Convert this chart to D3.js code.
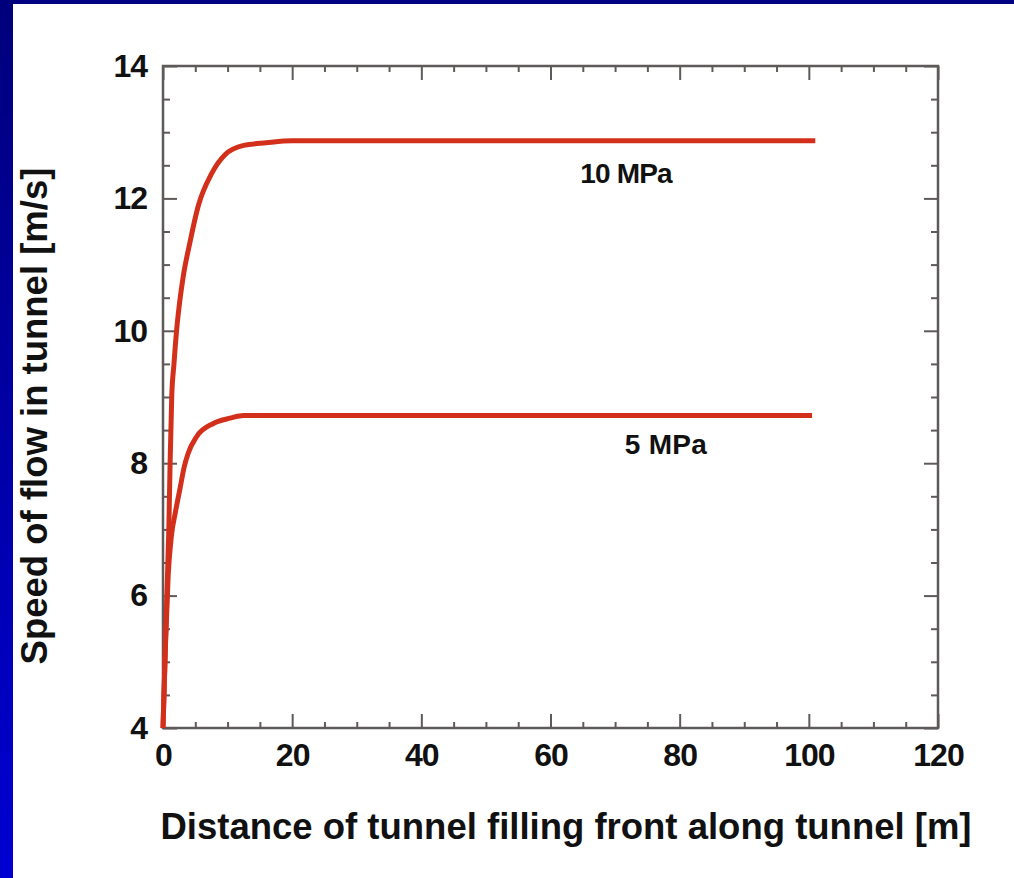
<!DOCTYPE html>
<html>
<head>
<meta charset="utf-8">
<script src="https://cdn.jsdelivr.net/npm/d3@7"></script>
<style>
  html, body { margin: 0; padding: 0; background: #ffffff; }
  svg { display: block; }
  text { font-family: "Liberation Sans", Arial, Helvetica, sans-serif; fill: #111; }
</style>
</head>
<body>
<svg id="chart" width="1014" height="878"></svg>
<script>
// Flow speed in the tunnel vs. distance of the filling front, two driving pressures
const seriesNames = ["10 MPa", "5 MPa"];
const distance10 = [0, 0.3, 0.6, 0.9, 1.1, 1.35, 1.7, 2.1, 2.6, 3.1, 4.2, 5.5, 7.5, 9.6, 12.5, 16, 20, 101];
const speed10    = [4, 5.0, 6.0, 7.0, 8.0, 9.0, 9.5, 10.0, 10.45, 10.8, 11.35, 11.9, 12.37, 12.66, 12.8, 12.84, 12.87, 12.87];
const distance5  = [0, 0.4, 0.8, 1.3, 1.9, 2.6, 3.3, 3.9, 5.2, 7.8, 10.4, 12.5, 100.5];
const speed5     = [4, 5.3, 6.3, 6.9, 7.25, 7.6, 7.95, 8.15, 8.4, 8.6, 8.68, 8.72, 8.72];
const xMajorTicks = [0, 20, 40, 60, 80, 100, 120];
const yMajorTicks = [4, 6, 8, 10, 12, 14];
const xLabel = "Distance of tunnel filling front along tunnel [m]";
const yLabel = "Speed of flow in tunnel [m/s]";

const svg = d3.select("#chart");
const W = 1014, H = 878;

// slide-style blue frame along the top and left edges
const defs = svg.append("defs");
const grad = defs.append("linearGradient").attr("id", "edgeBlue")
  .attr("x1", 0).attr("y1", 0).attr("x2", 0).attr("y2", 1);
grad.append("stop").attr("offset", "0%").attr("stop-color", "#00007c");
grad.append("stop").attr("offset", "100%").attr("stop-color", "#0000d2");
svg.append("rect").attr("x", 0).attr("y", 0).attr("width", W).attr("height", H).attr("fill", "#ffffff");
svg.append("rect").attr("x", 0).attr("y", 0).attr("width", W).attr("height", 4).attr("fill", "#000080");
svg.append("rect").attr("x", 0).attr("y", 0).attr("width", 13).attr("height", H).attr("fill", "url(#edgeBlue)");

const plotL = 163, plotR = 938, plotT = 66, plotB = 728;
const x = d3.scaleLinear().domain([0, 120]).range([plotL, plotR]);
const y = d3.scaleLinear().domain([4, 14]).range([plotB, plotT]);

const xMinor = d3.range(0, 120.01, 5).filter(v => !xMajorTicks.includes(v));
const yMinor = d3.range(4, 14.01, 0.5).filter(v => !yMajorTicks.includes(v));

const axisColor = "#5e5a5a";
function styleAxis(g) {
  g.select(".domain").remove();
  g.selectAll(".tick line").attr("stroke", axisColor).attr("stroke-width", 2);
}

// minor ticks, all four sides, pointing inward
svg.append("g").attr("transform", `translate(0,${plotB})`)
  .call(d3.axisBottom(x).tickValues(xMinor).tickSize(-6).tickFormat("")).call(styleAxis);
svg.append("g").attr("transform", `translate(0,${plotT})`)
  .call(d3.axisTop(x).tickValues(xMinor).tickSize(-6).tickFormat("")).call(styleAxis);
svg.append("g").attr("transform", `translate(${plotL},0)`)
  .call(d3.axisLeft(y).tickValues(yMinor).tickSize(-7).tickFormat("")).call(styleAxis);
svg.append("g").attr("transform", `translate(${plotR},0)`)
  .call(d3.axisRight(y).tickValues(yMinor).tickSize(-7).tickFormat("")).call(styleAxis);

// major ticks with labels
const tickFont = g => g.selectAll("text")
  .attr("font-size", 32).attr("font-weight", "bold")
  .attr("letter-spacing", -1).style("fill", "#111");
svg.append("g").attr("transform", `translate(0,${plotB})`)
  .call(d3.axisBottom(x).tickValues(xMajorTicks).tickSize(-14).tickPadding(15).tickFormat(d3.format("d")))
  .call(styleAxis).call(tickFont);
svg.append("g").attr("transform", `translate(0,${plotT})`)
  .call(d3.axisTop(x).tickValues(xMajorTicks).tickSize(-14).tickFormat(""))
  .call(styleAxis);
svg.append("g").attr("transform", `translate(${plotL},0)`)
  .call(d3.axisLeft(y).tickValues(yMajorTicks).tickSize(-14).tickPadding(16).tickFormat(d3.format("d")))
  .call(styleAxis).call(tickFont);
svg.append("g").attr("transform", `translate(${plotR},0)`)
  .call(d3.axisRight(y).tickValues(yMajorTicks).tickSize(-14).tickFormat(""))
  .call(styleAxis);

// plot frame
svg.append("rect")
  .attr("x", plotL).attr("y", plotT)
  .attr("width", plotR - plotL).attr("height", plotB - plotT)
  .attr("fill", "none").attr("stroke", axisColor).attr("stroke-width", 2.5);

// curves
const line = d3.line().x(d => x(d[0])).y(d => y(d[1])).curve(d3.curveMonotoneX);
const curves = [
  d3.zip(distance10, speed10),
  d3.zip(distance5, speed5)
];
svg.append("g").selectAll("path").data(curves).join("path")
  .attr("d", line)
  .attr("fill", "none")
  .attr("stroke", "#d3301c")
  .attr("stroke-width", 5)
  .attr("stroke-linejoin", "round")
  .attr("stroke-linecap", "butt");

// curve labels
svg.append("text").attr("x", 626).attr("y", 183)
  .attr("text-anchor", "middle").attr("font-size", 28).attr("font-weight", "bold")
  .attr("letter-spacing", -0.8).text(seriesNames[0]);
svg.append("text").attr("x", 666).attr("y", 454)
  .attr("text-anchor", "middle").attr("font-size", 28).attr("font-weight", "bold")
  .attr("letter-spacing", 0.3).text(seriesNames[1]);

// axis titles
svg.append("text").attr("x", 566).attr("y", 839)
  .attr("text-anchor", "middle").attr("font-size", 36.5).attr("font-weight", "bold")
  .text(xLabel);
svg.append("text")
  .attr("transform", "translate(47,416) rotate(-90)")
  .attr("text-anchor", "middle").attr("font-size", 36.5).attr("font-weight", "bold")
  .text(yLabel);
</script>
</body>
</html>
